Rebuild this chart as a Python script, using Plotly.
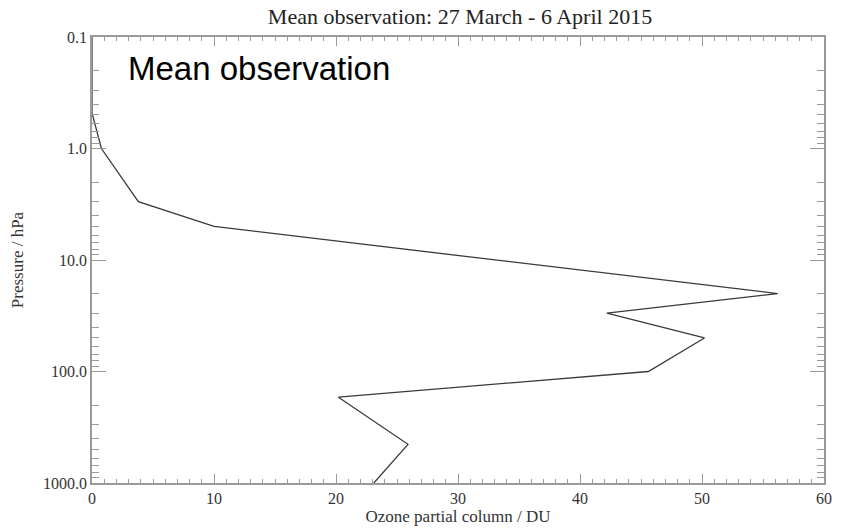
import plotly.graph_objects as go

ozone = [0.0, 0.0, 0.77, 3.8, 10.0, 56.2, 42.2, 50.2, 45.6, 20.2, 25.9, 23.1]
pressure = [0.1, 0.48, 1.0, 3.0, 5.0, 20.0, 30.0, 50.0, 100.0, 170.0, 450.0, 1000.0]

x_ticks = [0, 10, 20, 30, 40, 50, 60]
y_ticks = [0.1, 1.0, 10.0, 100.0, 1000.0]
y_ticklabels = ["0.1", "1.0", "10.0", "100.0", "1000.0"]
y_minor = [m * d for d in [0.1, 1, 10, 100] for m in range(2, 10)]

serif = "Liberation Serif, Times New Roman, serif"
axcol = "#9a9a9a"

fig = go.Figure()
fig.add_trace(go.Scatter(x=ozone, y=pressure, mode="lines",
                         line=dict(color="#3a3a3a", width=1.3),
                         showlegend=False, hoverinfo="skip"))

fig.update_layout(
    width=841, height=530,
    margin=dict(l=92, r=9, t=37, b=46),
    paper_bgcolor="white", plot_bgcolor="white",
    title=dict(text="Mean observation: 27 March - 6 April 2015",
               x=0.547, xanchor="center", y=0.97, yanchor="middle",
               font=dict(family=serif, size=22, color="#222")),
    font=dict(family=serif, color="#333"),
)
fig.update_xaxes(
    range=[0, 60], tickvals=x_ticks, showgrid=False, zeroline=False,
    showline=True, linecolor=axcol, linewidth=1.5, mirror="allticks",
    ticks="inside", ticklen=9, tickcolor=axcol, tickwidth=1,
    minor=dict(ticks="inside", dtick=1, ticklen=4, tickcolor=axcol, showgrid=False),
    tickfont=dict(family=serif, size=16, color="#333"),
    title=dict(text="Ozone partial column / DU", standoff=2,
               font=dict(family=serif, size=17, color="#333")),
)
fig.update_yaxes(
    type="log", range=[3, -1], tickvals=y_ticks, ticktext=y_ticklabels,
    showgrid=False, zeroline=False,
    showline=True, linecolor=axcol, linewidth=1.5, mirror="allticks",
    ticks="inside", ticklen=14, tickcolor=axcol, tickwidth=1,
    minor=dict(ticks="inside", tickvals=y_minor, ticklen=7, tickcolor=axcol, showgrid=False),
    tickfont=dict(family=serif, size=16, color="#333"),
    title=dict(text="Pressure / hPa", standoff=15,
               font=dict(family=serif, size=17, color="#333")),
)
fig.add_annotation(text="Mean observation", xref="paper", yref="paper",
                   x=0.047, y=0.93, xanchor="left", yanchor="middle", showarrow=False,
                   font=dict(family="Liberation Sans, Arial, sans-serif", size=33, color="black"))

fig.write_html("out.html")
